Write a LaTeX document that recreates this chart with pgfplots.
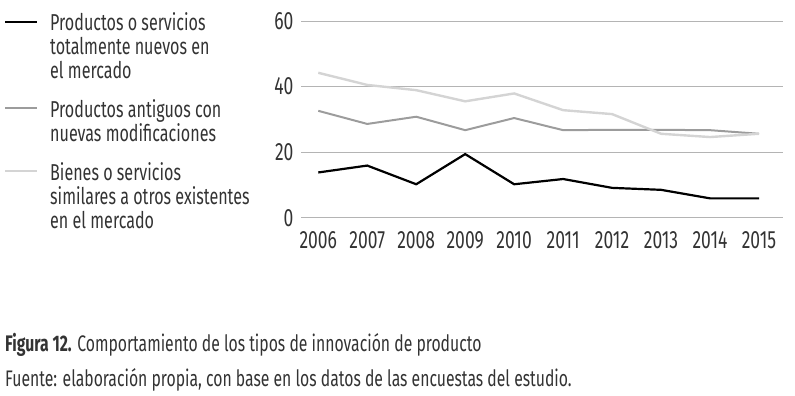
\documentclass[border=0pt]{standalone}
\usepackage{fontspec}
\setmainfont{Fira Sans}[FakeStretch=0.70]
\usepackage{pgfplots}
\pgfplotsset{compat=1.18}
\definecolor{txt}{HTML}{333333}
\definecolor{gridc}{HTML}{B4B4B4}
\definecolor{dg}{HTML}{9C9C9C}
\definecolor{lg}{HTML}{D4D4D4}
\pgfplotstableread{
year a b c
2006 13.8 32.6 44.2
2007 15.9 28.6 40.5
2008 10.2 30.8 38.9
2009 19.4 26.7 35.5
2010 10.2 30.4 37.9
2011 11.8 26.7 32.8
2012 9.1 26.8 31.6
2013 8.5 26.8 25.6
2014 5.9 26.7 24.6
2015 5.9 25.6 25.6
}\datatable
\begin{document}
\begin{tikzpicture}[x=1pt,y=1pt]
\useasboundingbox (0pt,0pt) rectangle (795pt,396pt);
\begin{axis}[
  at={(301pt,178.3pt)}, anchor=south west,
  scale only axis, width=482pt, height=196.7pt,
  xmin=2005.647, xmax=2015.49, ymin=0, ymax=60,
  xtick={2006,...,2015}, ytick={0,20,40,60},
  axis line style={draw=none}, major tick length=0pt,
  ymajorgrids, grid style={gridc, line width=0.9pt},
  ticklabel style={font=\fontsize{25}{28}\selectfont, text=txt},
  /pgf/number format/.cd, 1000 sep={}, assume math mode=true,
  /pgfplots/.cd,
  xticklabel style={yshift=-10pt},
  yticklabel style={xshift=-4pt},
  clip=false,
]
\addplot[black, line width=2.2pt] table[x=year,y=a] {\datatable};
\addplot[dg, line width=2pt] table[x=year,y=b] {\datatable};
\addplot[lg, line width=2.4pt] table[x=year,y=c] {\datatable};
\end{axis}
% legend
\draw[black, line width=2.2pt] (5pt,374pt) -- (37pt,374pt);
\draw[dg, line width=2pt] (5pt,288pt) -- (37pt,288pt);
\draw[lg, line width=2.4pt] (5pt,225pt) -- (37pt,225pt);
\node[anchor=north west, inner sep=0pt, align=left, text=txt, font=\fontsize{23}{24}\selectfont] at (50pt,384pt)
  {Productos o servicios\\totalmente nuevos en\\el mercado};
\node[anchor=north west, inner sep=0pt, align=left, text=txt, font=\fontsize{23}{24}\selectfont] at (50pt,297pt)
  {Productos antiguos con\\nuevas modificaciones};
\node[anchor=north west, inner sep=0pt, align=left, text=txt, font=\fontsize{23}{24}\selectfont] at (50pt,234pt)
  {Bienes o servicios\\similares a otros existentes\\en el mercado};
% caption
\node[anchor=base west, inner sep=0pt, text=txt, font=\fontsize{22.5}{24}\selectfont] at (5pt,44pt)
  {\textbf{Figura 12.} Comportamiento de los tipos de innovación de producto};
\node[anchor=base west, inner sep=0pt, text=txt, font=\fontsize{22.5}{24}\selectfont] at (5pt,9pt)
  {Fuente: elaboración propia, con base en los datos de las encuestas del estudio.};
\end{tikzpicture}
\end{document}
